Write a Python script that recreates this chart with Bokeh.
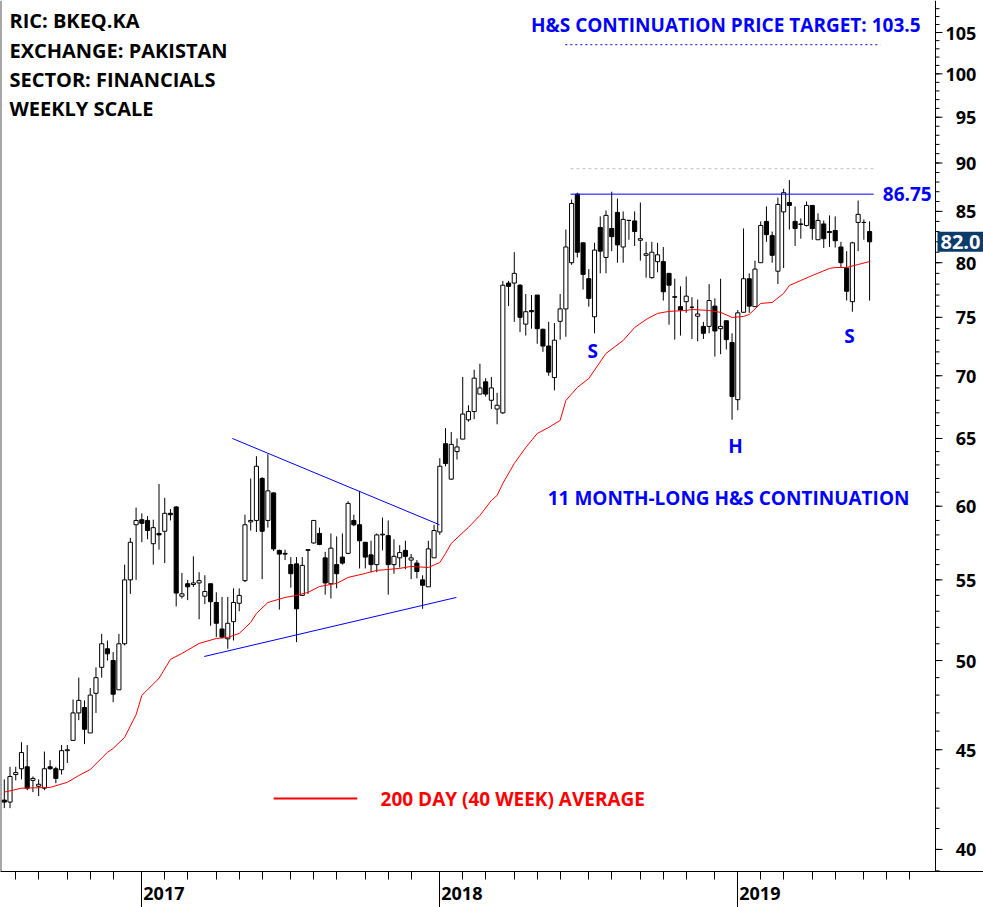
import pandas as pd
from bokeh.plotting import figure
from bokeh.models import FixedTicker, Label, Span, Range1d, ColumnDataSource
from bokeh.embed import file_html
from bokeh.resources import INLINE

# ---------------- data (weekly candles, BKEQ.KA) ----------------
first_week = "2016-07-18"
opens = [42.4, 42.3, 43.7, 44.0, 44.1, 43.4, 43.1, 43.0, 44.1, 44.0,
         43.95, 44.95, 45.5, 47.0, 47.3, 45.9, 48.1, 49.6, 50.7, 50.0,
         48.3, 51.0, 55.0, 58.7, 59.05, 59.0, 57.4, 58.1, 58.25, 59.5,
         59.95, 53.95, 54.75, 54.7, 54.8, 53.95, 54.75, 53.55, 51.9, 51.3,
         52.35, 53.5, 54.95, 58.9, 59.0, 62.0, 59.0, 60.95, 56.95, 56.75,
         56.0, 56.05, 54.0, 56.95, 57.45, 58.1, 56.45, 54.75, 56.0, 56.5,
         56.75, 59.0, 58.7, 57.5, 56.65, 56.0, 58.0, 57.95, 56.0, 56.45,
         56.95, 56.3, 56.1, 55.0, 54.55, 56.45, 58.2, 64.6, 61.95, 64.0,
         64.95, 66.45, 67.1, 68.5, 69.5, 68.0, 67.3, 67.0, 78.1, 78.1,
         77.9, 74.4, 75.6, 77.0, 73.95, 72.5, 69.85, 74.65, 75.75, 80.0,
         86.75, 81.9, 78.5, 75.05, 83.4, 80.5, 83.3, 84.9, 81.5, 84.1,
         84.05, 82.15, 80.7, 78.6, 80.1, 80.1, 79.0, 76.85, 75.95, 76.4,
         75.9, 75.1, 74.2, 74.2, 76.0, 74.0, 74.7, 72.8, 68.05, 75.45,
         78.5, 75.95, 80.0, 84.0, 82.6, 79.2, 84.95, 85.9, 84.0, 83.7,
         83.6, 85.6, 82.2, 83.75, 83.0, 83.1, 81.5, 79.5, 76.4, 83.9,
         83.9, 83.0]
highs = [43.45, 44.1, 44.1, 45.4, 45.25, 43.6, 43.45, 44.9, 44.45, 44.1,
         45.25, 45.25, 47.75, 49.0, 47.7, 48.4, 49.6, 51.6, 51.2, 50.5,
         51.6, 56.0, 57.8, 59.9, 59.5, 59.3, 59.05, 61.6, 60.6, 59.8,
         60.0, 55.45, 55.0, 56.55, 55.5, 55.3, 54.75, 54.2, 53.9, 53.9,
         54.45, 54.45, 59.4, 62.0, 63.65, 62.1, 63.8, 61.0, 57.0, 57.0,
         56.5, 56.5, 56.5, 57.0, 59.0, 58.5, 56.85, 58.1, 57.9, 58.1,
         60.35, 59.4, 61.1, 57.5, 57.6, 58.1, 59.2, 59.0, 57.7, 57.3,
         57.6, 56.7, 56.3, 55.3, 57.6, 58.7, 63.5, 65.8, 65.5, 65.0,
         69.9, 67.6, 70.5, 71.0, 69.8, 69.9, 68.6, 78.3, 78.3, 81.0,
         78.0, 77.1, 77.0, 77.0, 74.0, 74.6, 74.5, 77.1, 83.2, 86.2,
         86.9, 81.9, 79.4, 81.9, 84.5, 85.1, 87.0, 86.3, 85.0, 84.1,
         85.0, 85.9, 82.0, 82.0, 81.9, 81.5, 79.0, 78.5, 77.8, 78.7,
         76.8, 76.6, 74.6, 78.0, 76.7, 78.5, 74.7, 73.6, 75.65, 83.3,
         79.0, 80.2, 84.0, 85.5, 83.0, 86.4, 87.3, 88.2, 85.5, 84.3,
         86.0, 85.6, 84.8, 84.1, 84.6, 84.5, 82.0, 81.1, 82.0, 86.1,
         84.2, 84.0]
lows = [42.0, 42.0, 43.4, 43.45, 42.9, 42.8, 42.6, 42.9, 43.95, 43.25,
        43.7, 44.3, 45.5, 46.6, 45.3, 45.9, 47.0, 49.0, 50.0, 47.6,
        48.3, 50.9, 54.1, 55.0, 57.5, 57.7, 56.0, 57.0, 56.1, 59.0,
        53.3, 53.8, 53.7, 54.55, 52.5, 53.45, 52.1, 51.4, 51.35, 50.7,
        51.2, 53.0, 54.85, 58.3, 58.2, 55.05, 58.5, 56.9, 53.1, 56.3,
        54.5, 51.1, 54.0, 54.1, 57.4, 57.3, 54.05, 53.8, 54.45, 56.0,
        56.7, 58.6, 55.75, 55.75, 55.5, 55.5, 56.95, 54.05, 55.4, 55.8,
        55.7, 55.05, 55.1, 53.15, 54.55, 56.45, 58.0, 62.9, 61.9, 63.4,
        64.95, 66.3, 66.5, 68.5, 68.3, 67.3, 66.1, 66.9, 76.0, 74.6,
        73.7, 73.4, 74.0, 72.7, 72.0, 70.0, 68.8, 73.05, 73.3, 79.8,
        80.5, 77.5, 75.95, 73.6, 79.0, 79.0, 81.1, 80.0, 80.0, 82.2,
        81.6, 80.2, 78.6, 78.5, 79.1, 76.5, 74.35, 73.05, 73.4, 75.4,
        73.1, 72.9, 73.1, 73.6, 71.6, 71.8, 72.2, 66.45, 67.2, 75.45,
        75.4, 75.95, 80.0, 82.0, 80.0, 78.0, 79.5, 83.2, 81.6, 82.3,
        83.5, 82.2, 82.2, 81.4, 81.5, 81.45, 79.5, 76.5, 75.5, 81.1,
        82.2, 76.5]
closes = [42.3, 43.6, 43.8, 44.85, 43.0, 43.5, 43.2, 44.0, 44.0, 43.5,
          44.95, 45.0, 47.0, 47.7, 46.1, 48.0, 49.0, 51.0, 50.4, 48.05,
          51.0, 55.0, 57.5, 59.0, 58.8, 58.3, 58.5, 58.0, 59.5, 59.4,
          54.15, 54.1, 54.55, 54.8, 54.95, 54.25, 53.6, 52.25, 51.4, 52.25,
          53.55, 54.0, 58.7, 59.0, 62.9, 58.25, 61.1, 57.05, 56.7, 56.7,
          55.4, 53.15, 55.95, 57.0, 59.0, 57.35, 54.8, 57.1, 55.4, 56.1,
          60.2, 58.7, 57.6, 56.5, 56.0, 58.0, 58.05, 56.0, 56.55, 56.8,
          56.55, 56.45, 55.55, 54.65, 57.05, 58.3, 62.9, 63.1, 64.55, 64.35,
          66.9, 67.1, 69.8, 69.0, 68.5, 69.0, 67.6, 77.9, 77.8, 79.0,
          75.0, 75.5, 75.5, 74.0, 72.5, 70.3, 73.0, 75.75, 81.5, 85.8,
          81.0, 78.9, 76.7, 81.2, 81.1, 84.6, 82.5, 81.7, 84.2, 84.1,
          83.0, 82.3, 80.85, 81.0, 80.75, 77.3, 77.9, 76.8, 75.65, 76.9,
          75.9, 75.3, 73.6, 76.5, 73.8, 74.2, 73.05, 68.3, 75.4, 78.5,
          76.0, 79.4, 83.6, 82.7, 80.7, 85.7, 86.9, 85.6, 83.3, 83.75,
          85.6, 83.3, 84.1, 82.3, 82.9, 82.1, 80.0, 77.35, 81.9, 84.7,
          83.9, 82.0]

# 40-week moving average (week number, value)
ma_weeks = [0, 3, 8, 11, 13, 15, 18, 19, 21, 23, 24, 27, 29, 31, 34, 37, 39, 41,
            43, 44, 46, 49, 51, 53, 55, 58, 60, 63, 65, 67, 69, 71, 74, 76, 77, 78,
            81, 83, 85, 86, 87, 89, 91, 93, 95, 97, 98, 100, 102, 105, 108, 110,
            112, 114, 116, 119, 120, 123, 125, 127, 129, 130, 132, 134, 136, 137,
            139, 141, 144, 145, 147, 149, 151]
ma_values = [42.8, 43.0, 43.04, 43.3, 43.65, 43.96, 44.86, 45.07, 45.66, 46.9, 47.98,
             48.96, 50.07, 50.42, 51.02, 51.32, 51.38, 51.63, 52.3, 52.86, 53.55,
             53.87, 54.0, 54.19, 54.57, 54.77, 55.16, 55.42, 55.62, 55.68, 55.75,
             55.88, 55.81, 56.14, 56.74, 57.42, 58.52, 59.35, 60.41, 60.77, 61.64,
             63.11, 64.31, 65.38, 65.85, 66.4, 67.98, 69.04, 69.77, 71.87, 72.98,
             74.11, 74.81, 75.35, 75.53, 75.61, 75.7, 75.61, 75.44, 74.99, 75.08,
             75.26, 76.24, 76.33, 77.15, 77.88, 78.34, 78.8, 79.46, 79.55, 79.55,
             79.83, 80.11]

# pattern annotations (week number, price)
upper_trend_weeks = [39.8, 75.95]
upper_trend_prices = [65.0, 58.7]
lower_trend_weeks = [34.9, 78.9]
lower_trend_prices = [50.24, 53.87]
neckline_weeks = [98.8, 151.7]
neckline_price = 86.75
gray_level_price = 89.4
target_weeks = [97.9, 152.9]
target_price = 103.5
last_close_label = "82.0"

y_ticks = [40, 45, 50, 55, 60, 65, 70, 75, 80, 85, 90, 95, 100, 105]
y_minor_ticks = list(range(39, 109))
year_labels = ["2017", "2018", "2019"]
info_lines = ["RIC: BKEQ.KA", "EXCHANGE: PAKISTAN", "SECTOR: FINANCIALS", "WEEKLY SCALE"]
info_prices = [106.5, 102.8, 99.33, 95.99]

# ---------------- derived ----------------
dates = pd.date_range(first_week, periods=len(closes), freq="7D")
t0 = dates[0]
x = ((dates - t0).days / 7).to_numpy()


def week_of(d):
    d = pd.Timestamp(d)
    if d.weekday() >= 5:
        d = d + pd.Timedelta(days=7 - d.weekday())
    monday = d - pd.Timedelta(days=d.weekday())
    return (monday - t0).days / 7


months = pd.date_range("2016-08-01", "2019-08-01", freq="MS")
month_ticks = [week_of(m) for m in months]
year_ticks = [week_of(f"{y}-01-01") for y in year_labels]

src = ColumnDataSource(dict(
    x=x, high=highs, low=lows,
    top=[max(o, c) for o, c in zip(opens, closes)],
    bottom=[min(o, c) for o, c in zip(opens, closes)],
    fill=["white" if c >= o else "black" for o, c in zip(opens, closes)],
))

PX_PER_WEEK = 5.7305
X0 = -0.66
X_AXIS = X0 + 935 / PX_PER_WEEK      # price scale line
X_END = X0 + 983 / PX_PER_WEEK       # right edge of canvas
Y0, Y1 = 38.97, 109.05
FONT = "Open Sans"
BLUE = "#0000ff"

p = figure(width=983, height=907, x_range=Range1d(X0, X_END), y_range=Range1d(Y0, Y1),
           y_axis_type="log", y_axis_location="right",
           output_backend="svg", toolbar_location=None,
           min_border_left=0, min_border_right=0, min_border_top=0, min_border_bottom=36)
p.grid.visible = False
p.outline_line_color = None
p.background_fill_color = "white"
p.border_fill_color = "white"

# candles
p.segment("x", "high", "x", "low", source=src, line_color="black", line_width=1)
p.vbar(x="x", width=0.72, top="top", bottom="bottom", fill_color="fill",
       line_color="black", line_width=1, source=src)

# moving average
p.line(ma_weeks, ma_values, line_color="red", line_width=1)

# triangle
p.line(upper_trend_weeks, upper_trend_prices, line_color=BLUE, line_width=1)
p.line(lower_trend_weeks, lower_trend_prices, line_color=BLUE, line_width=1)

# neckline, gray level, target
p.line(neckline_weeks, [gray_level_price] * 2, line_color="#c0c0c0", line_width=1, line_dash="3 3")
p.line(neckline_weeks, [neckline_price] * 2, line_color=BLUE, line_width=1)
p.line(target_weeks, [target_price] * 2, line_color=BLUE, line_width=1, line_dash="2 3")

# legend
p.line([47.0, 61.6], [42.48, 42.48], line_color="red", line_width=2)


def label(xv, yv, text, color, size="19px", align="left"):
    p.add_layout(Label(x=xv, y=yv, text=text, text_color=color, text_font=FONT,
                       text_font_style="bold", text_font_size=size,
                       text_align=align, text_baseline="middle"))


label(65.66, 42.48, "200 DAY (40 WEEK) AVERAGE", "red")
for t, yv in zip(info_lines, info_prices):
    label(0.9, yv, t, "black", size="20px")
label(125.9, 106.0, "H&S CONTINUATION PRICE TARGET: " + str(target_price), BLUE, align="center")
label(153.3, neckline_price, f"{neckline_price:.2f}", BLUE)
label(102.7, 72.04, "S", BLUE, align="center")
label(127.6, 64.39, "H", BLUE, align="center")
label(147.5, 73.4, "S", BLUE, align="center")
label(126.4, 60.56, "11 MONTH-LONG H&S CONTINUATION", BLUE, align="center")

# price scale: vertical line and tick marks at the tick values
p.add_layout(Span(location=X_AXIS, dimension="height", line_color="black", line_width=1))
p.segment(x0=[X_AXIS] * len(y_ticks), y0=y_ticks,
          x1=[X_AXIS + 7 / PX_PER_WEEK] * len(y_ticks), y1=y_ticks,
          line_color="black", line_width=1)
p.segment(x0=[X_AXIS] * len(y_minor_ticks), y0=y_minor_ticks,
          x1=[X_AXIS + 4 / PX_PER_WEEK] * len(y_minor_ticks), y1=y_minor_ticks,
          line_color="black", line_width=1)

# last price box on the price scale
p.add_layout(Label(x=X_AXIS, y=closes[-1], text=last_close_label, text_color="white",
                   text_font=FONT, text_font_style="bold", text_font_size="20px",
                   text_baseline="middle", text_align="left", x_offset=2,
                   background_fill_color="#0b3b6b", padding=3))

# left edge
p.add_layout(Span(location=X0, dimension="height", line_color="#505050", line_width=2))

# y axis: only its labels are shown, drawn back over the price-scale strip
ya = p.yaxis[0]
ya.ticker = FixedTicker(ticks=y_ticks, minor_ticks=[])
ya.major_label_overrides = {v: f"{v:>3}".replace(" ", "\u2007") for v in y_ticks}
ya.axis_line_color = None
ya.major_tick_line_color = None
ya.minor_tick_line_color = None
ya.major_tick_in = 0
ya.major_tick_out = 0
ya.minor_tick_in = 0
ya.minor_tick_out = 0
ya.major_label_standoff = -38
ya.major_label_text_font = FONT
ya.major_label_text_font_style = "bold"
ya.major_label_text_font_size = "18px"
ya.major_label_text_color = "black"

xa = p.xaxis[0]
xa.ticker = FixedTicker(ticks=year_ticks, minor_ticks=month_ticks)
# leading figure spaces push each year label to the right of its long tick
xa.major_label_overrides = {t: "\u2007" * 4 + "\u2009" + lab for t, lab in zip(year_ticks, year_labels)}
xa.axis_line_color = "black"
xa.major_tick_in = 0
xa.major_tick_out = 36
xa.minor_tick_in = 0
xa.minor_tick_out = 8
xa.major_label_standoff = -27
xa.major_label_text_font = FONT
xa.major_label_text_font_style = "bold"
xa.major_label_text_font_size = "18px"
xa.major_label_text_color = "black"

open("out.html", "w").write(file_html(p, INLINE))
